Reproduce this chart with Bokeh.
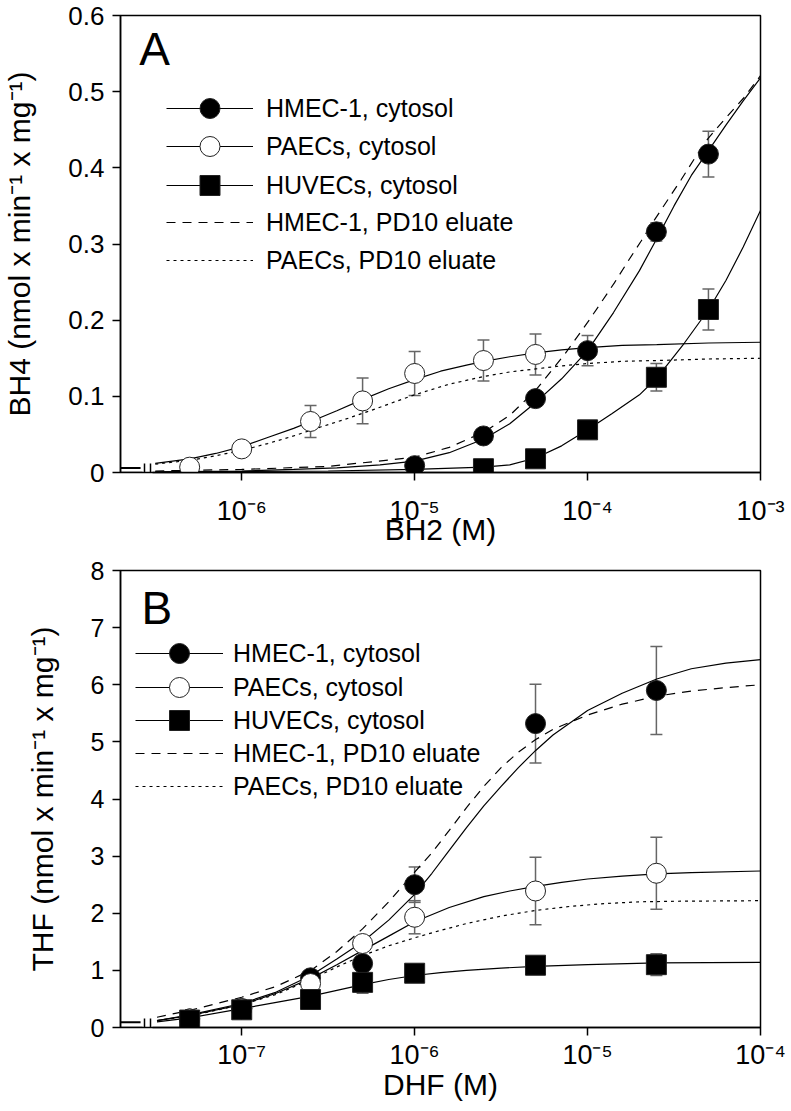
from bokeh.plotting import figure
from bokeh.models import (ColumnDataSource, Whisker, TeeHead, Legend, LegendItem, LogAxis,
                          FixedTicker, CustomJSTickFormatter, Label, Range1d)
from bokeh.layouts import column
from bokeh.embed import file_html
from bokeh.resources import INLINE

FONT = "Liberation Sans"
ERR = "#666666"

# ---------------- Panel A : BH2 -> BH4 ----------------
a_xticks = [1e-6, 1e-5, 1e-4, 1e-3]
a_yticks = [0, 0.1, 0.2, 0.3, 0.4, 0.5, 0.6]

a_hmec_x = [1e-5, 2.5e-5, 5e-5, 1e-4, 2.5e-4, 5e-4]
a_hmec_y = [0.009, 0.048, 0.097, 0.160, 0.316, 0.418]
a_hmec_e = [0.002, 0.003, 0.004, 0.020, 0.012, 0.030]

a_paec_x = [5e-7, 1e-6, 2.5e-6, 5e-6, 1e-5, 2.5e-5, 5e-5]
a_paec_y = [0.007, 0.031, 0.067, 0.094, 0.130, 0.147, 0.155]
a_paec_e = [0.002, 0.004, 0.021, 0.030, 0.029, 0.027, 0.027]

a_huvec_x = [2.5e-5, 5e-5, 1e-4, 2.5e-4, 5e-4]
a_huvec_y = [0.005, 0.018, 0.056, 0.125, 0.214]
a_huvec_e = [0.002, 0.003, 0.004, 0.018, 0.027]

# fitted curves (log10 of concentration, value)
a_hmec_fit_lx = [-6.50, -6.00, -5.70, -5.45, -5.20, -5.00, -4.80, -4.60, -4.45, -4.30, -4.15,
                 -4.00, -3.85, -3.70, -3.60, -3.50, -3.40, -3.30, -3.20, -3.10, -3.00]
a_hmec_fit_y = [0.001, 0.002, 0.004, 0.006, 0.010, 0.015, 0.026, 0.044, 0.064, 0.092, 0.123,
                0.160, 0.210, 0.265, 0.307, 0.350, 0.390, 0.423, 0.456, 0.488, 0.518]

a_paec_fit_lx = [-6.50, -6.30, -6.15, -6.00, -5.85, -5.70, -5.60, -5.45, -5.30, -5.15, -5.00,
                 -4.85, -4.70, -4.60, -4.45, -4.30, -4.15, -4.00, -3.80, -3.60, -3.30, -3.00]
a_paec_fit_y = [0.012, 0.018, 0.025, 0.034, 0.046, 0.058, 0.067, 0.081, 0.096, 0.110, 0.122,
                0.133, 0.141, 0.146, 0.152, 0.157, 0.161, 0.164, 0.167, 0.168, 0.170, 0.171]

a_huvec_fit_lx = [-6.50, -5.50, -5.00, -4.60, -4.45, -4.30, -4.15, -4.00, -3.86, -3.70, -3.60,
                  -3.44, -3.30, -3.20, -3.10, -3.00]
a_huvec_fit_y = [0.0005, 0.002, 0.004, 0.007, 0.010, 0.019, 0.035, 0.056, 0.077, 0.102, 0.124,
                 0.170, 0.214, 0.252, 0.296, 0.344]

a_hmec_pd_lx = [-6.50, -6.00, -5.50, -5.00, -4.80, -4.60, -4.45, -4.30, -4.13, -4.00, -3.925,
                -3.845, -3.77, -3.69, -3.615, -3.46, -3.385, -3.305, -3.195, -3.10, -3.00]
a_hmec_pd_y = [0.002, 0.004, 0.008, 0.020, 0.033, 0.053, 0.075, 0.108, 0.156, 0.197, 0.222,
               0.249, 0.276, 0.304, 0.331, 0.384, 0.411, 0.438, 0.467, 0.491, 0.521]

a_paec_pd_lx = [-6.50, -6.30, -6.15, -6.00, -5.85, -5.70, -5.54, -5.40, -5.22, -5.10, -5.00,
                -4.80, -4.60, -4.45, -4.30, -4.15, -4.00, -3.80, -3.60, -3.30, -3.00]
a_paec_pd_y = [0.011, 0.016, 0.022, 0.029, 0.038, 0.048, 0.060, 0.070, 0.084, 0.094, 0.102,
               0.116, 0.126, 0.132, 0.136, 0.140, 0.143, 0.146, 0.147, 0.149, 0.150]

a_stub_lx = [-6.70, -6.585]
a_stub_y = [0.006, 0.006]

# ---------------- Panel B : DHF -> THF ----------------
b_xticks = [1e-7, 1e-6, 1e-5, 1e-4]
b_yticks = [0, 1, 2, 3, 4, 5, 6, 7, 8]

b_conc = [5e-8, 1e-7, 2.5e-7, 5e-7, 1e-6, 5e-6, 2.5e-5]
b_hmec_y = [0.15, 0.33, 0.87, 1.12, 2.50, 5.32, 5.90]
b_hmec_e = [0.03, 0.05, 0.05, 0.08, 0.31, 0.69, 0.77]
b_paec_y = [0.15, 0.33, 0.77, 1.47, 1.93, 2.39, 2.70]
b_paec_e = [0.03, 0.05, 0.05, 0.08, 0.29, 0.59, 0.63]
b_huvec_y = [0.13, 0.31, 0.49, 0.79, 0.95, 1.09, 1.10]
b_huvec_e = [0.02, 0.03, 0.05, 0.19, 0.05, 0.06, 0.19]

b_hmec_fit_lx = [-7.49, -7.30, -7.00, -6.80, -6.60, -6.45, -6.30, -6.15, -6.00, -5.90, -5.80,
                 -5.70, -5.60, -5.50, -5.40, -5.30, -5.20, -5.00, -4.80, -4.60, -4.40, -4.20, -4.00]
b_hmec_fit_y = [0.12, 0.22, 0.42, 0.62, 0.91, 1.20, 1.50, 1.88, 2.33, 2.70, 3.10,
                3.50, 3.88, 4.22, 4.55, 4.85, 5.12, 5.55, 5.85, 6.10, 6.28, 6.38, 6.44]

b_hmec_pd_lx = [-7.49, -7.30, -7.00, -6.80, -6.60, -6.45, -6.30, -6.15, -6.00, -5.90, -5.80,
                -5.70, -5.60, -5.50, -5.40, -5.30, -5.20, -5.00, -4.80, -4.60, -4.40, -4.20, -4.00]
b_hmec_pd_y = [0.18, 0.30, 0.53, 0.72, 1.00, 1.33, 1.73, 2.20, 2.72, 3.06, 3.45,
               3.85, 4.22, 4.55, 4.82, 5.04, 5.22, 5.47, 5.66, 5.80, 5.89, 5.95, 6.00]

b_paec_fit_lx = [-7.49, -7.30, -7.00, -6.80, -6.60, -6.45, -6.30, -6.15, -6.00, -5.80, -5.60,
                 -5.45, -5.30, -5.15, -5.00, -4.80, -4.60, -4.40, -4.00]
b_paec_fit_y = [0.12, 0.21, 0.40, 0.60, 0.86, 1.10, 1.35, 1.60, 1.85, 2.10, 2.29,
                2.39, 2.47, 2.54, 2.60, 2.65, 2.69, 2.71, 2.74]

b_paec_pd_lx = [-7.49, -7.30, -7.00, -6.80, -6.60, -6.45, -6.30, -6.15, -6.00, -5.85, -5.70,
                -5.50, -5.30, -5.10, -4.90, -4.70, -4.50, -4.00]
b_paec_pd_y = [0.12, 0.20, 0.40, 0.58, 0.84, 1.06, 1.26, 1.43, 1.57, 1.70, 1.82,
               1.95, 2.05, 2.12, 2.17, 2.20, 2.21, 2.22]

b_huvec_fit_lx = [-7.49, -7.30, -7.00, -6.80, -6.60, -6.45, -6.30, -6.15, -6.00, -5.85, -5.70,
                  -5.50, -5.30, -5.00, -4.60, -4.00]
b_huvec_fit_y = [0.10, 0.17, 0.33, 0.44, 0.55, 0.65, 0.75, 0.84, 0.91, 0.96, 1.00,
                 1.04, 1.07, 1.10, 1.13, 1.14]

b_stub_lx = [-7.70, -7.585]
b_stub_y = [0.09, 0.09]

legend_labels = ["HMEC-1, cytosol", "PAECs, cytosol", "HUVECs, cytosol",
                 "HMEC-1, PD10 eluate", "PAECs, PD10 eluate"]

SUP_JS = """
const sup = {"-": "\u207b", "0": "\u2070", "1": "\u00b9", "2": "\u00b2", "3": "\u00b3",
             "4": "\u2074", "5": "\u2075", "6": "\u2076", "7": "\u2077", "8": "\u2078", "9": "\u2079"};
const e = Math.round(Math.log10(tick));
return "10" + String(e).split("").map(c => sup[c]).join("");
"""

FIG_W = 789
LEFT = 116
RIGHT = 29


def pow10(lx):
    return [10 ** v for v in lx]


def make_panel(height, top, bottom, xlo, xhi, yhi, xticks, yticks, yfmt, yfont,
               xlabel, ylabel, xstand, xlabstand, axis_start):
    p = figure(width=FIG_W, height=height, x_axis_type="log",
               x_range=Range1d(xlo, xhi), y_range=Range1d(0, yhi),
               output_backend="svg", toolbar_location=None,
               min_border_left=LEFT, min_border_right=RIGHT,
               min_border_top=top, min_border_bottom=bottom)
    p.grid.visible = False
    p.outline_line_color = "black"
    p.outline_line_width = 1.5
    p.background_fill_color = "white"
    p.border_fill_color = "white"
    p.xaxis.ticker = FixedTicker(ticks=xticks, minor_ticks=[])
    p.yaxis.ticker = FixedTicker(ticks=yticks, minor_ticks=[])
    p.xaxis.formatter = CustomJSTickFormatter(code=SUP_JS)
    p.yaxis.formatter = CustomJSTickFormatter(code=yfmt)
    p.axis.axis_line_width = 1.5
    p.axis.axis_line_color = "black"
    p.axis.major_tick_line_width = 1.5
    p.axis.major_tick_line_color = "black"
    p.axis.major_tick_out = 8
    p.axis.major_tick_in = 0
    p.axis.minor_tick_out = 0
    p.axis.minor_tick_in = 0
    p.axis.major_label_text_font = FONT
    p.axis.major_label_text_color = "black"
    p.xaxis.major_label_text_font_size = "27px"
    p.yaxis.major_label_text_font_size = yfont
    p.axis.axis_label_text_font = FONT
    p.axis.axis_label_text_font_size = "30px"
    p.axis.axis_label_text_font_style = "normal"
    p.axis.axis_label_text_color = "black"
    p.xaxis.major_label_standoff = xstand
    p.xaxis.axis_label_standoff = xlabstand
    p.yaxis.major_label_standoff = 8
    p.yaxis.axis_label_standoff = 29
    p.xaxis.axis_label = xlabel
    p.yaxis.axis_label = ylabel
    p.xaxis.bounds = (10 ** axis_start, xhi)
    return p


def add_break_axes(p, xlo, stub_end, bar1, bar2, bar_loc):
    empty = 'return "";'
    stub = LogAxis(fixed_location=0, bounds=(xlo, 10 ** stub_end),
                   ticker=FixedTicker(ticks=[], minor_ticks=[]),
                   formatter=CustomJSTickFormatter(code=empty),
                   major_label_text_font_size="0px", axis_line_width=1.5,
                   axis_line_color="black", major_tick_out=0, major_tick_in=0,
                   minor_tick_out=0, minor_tick_in=0, major_label_standoff=0)
    p.add_layout(stub, "below")
    bars = LogAxis(fixed_location=bar_loc,
                   ticker=FixedTicker(ticks=[10 ** bar1, 10 ** bar2], minor_ticks=[]),
                   formatter=CustomJSTickFormatter(code=empty),
                   major_label_text_font_size="0px", axis_line_color=None,
                   major_tick_in=19, major_tick_out=0, major_tick_line_width=1.5,
                   major_tick_line_color="black", minor_tick_out=0, minor_tick_in=0,
                   major_label_standoff=0)
    p.add_layout(bars, "below")


def add_points(p, xs, ys, es, marker, fill):
    src = ColumnDataSource(dict(x=xs, y=ys,
                                lo=[y - e for y, e in zip(ys, es)],
                                hi=[y + e for y, e in zip(ys, es)]))
    w = Whisker(source=src, base="x", lower="lo", upper="hi",
                line_color=ERR, line_width=1.5, level="underlay",
                upper_head=TeeHead(size=12, line_color=ERR, line_width=1.5),
                lower_head=TeeHead(size=12, line_color=ERR, line_width=1.5))
    p.add_layout(w)
    return p.scatter("x", "y", source=src, marker=marker, size=20,
                     fill_color=fill, line_color="#222222", line_width=1)


def add_curve(p, lx, ys, dash="solid"):
    return p.line(pow10(lx), ys, line_color="black", line_width=1.2, line_dash=dash)


def add_legend(p, items, x0, vys, gw, standoff):
    for lab, rends, vy in zip(legend_labels, items, vys):
        leg = Legend(items=[LegendItem(label=lab, renderers=rends)],
                     location=(x0, vy), orientation="vertical", glyph_width=gw, glyph_height=50,
                     spacing=0, padding=0, margin=0, label_standoff=standoff,
                     label_text_font=FONT, label_text_font_size="25px",
                     label_text_color="black", label_height=20,
                     border_line_color=None, background_fill_alpha=0)
        p.add_layout(leg)


# ---------- build A ----------
A_TOP, A_FRAME, A_BOT = 15, 457, 84
A_H = A_TOP + A_FRAME + A_BOT
A_FRAME_BOT_PX = A_TOP + A_FRAME
A_YHI = 0.6
pA = make_panel(A_H, A_TOP, A_BOT, 10 ** -6.701, 1e-3, A_YHI,
                a_xticks, a_yticks, 'return tick == 0 ? "0" : tick.toFixed(1);', "26px",
                "BH2 (M)", "BH4 (nmol x min\u207b\u00b9 x mg\u207b\u00b9)", 15, -16, -6.517)
pA.line(pow10(a_stub_lx), a_stub_y, line_color="black", line_width=2)
lA1 = add_curve(pA, a_hmec_fit_lx, a_hmec_fit_y)
lA2 = add_curve(pA, a_paec_fit_lx, a_paec_fit_y)
lA3 = add_curve(pA, a_huvec_fit_lx, a_huvec_fit_y)
lA4 = add_curve(pA, a_hmec_pd_lx, a_hmec_pd_y, "9 7")
lA5 = add_curve(pA, a_paec_pd_lx, a_paec_pd_y, "3 4")
sA1 = add_points(pA, a_hmec_x, a_hmec_y, a_hmec_e, "circle", "black")
sA2 = add_points(pA, a_paec_x, a_paec_y, a_paec_e, "circle", "white")
sA3 = add_points(pA, a_huvec_x, a_huvec_y, a_huvec_e, "square", "black")
a_rows_px = [108, 146, 185, 222, 260]
add_legend(pA, [[lA1, sA1], [lA2, sA2], [lA3, sA3], [lA4], [lA5]], 46,
           [A_FRAME_BOT_PX - c - 25 for c in a_rows_px], 87, 13)
add_break_axes(pA, 10 ** -6.701, -6.575, -6.563, -6.529, -10 * A_YHI / A_FRAME)
pA.add_layout(Label(x=10 ** -6.592, y=(A_FRAME_BOT_PX - 48.5) * A_YHI / A_FRAME, text="A",
                    text_font=FONT, text_font_size="46px",
                    text_align="left", text_baseline="middle", text_color="black"))

# ---------- build B ----------
B_TOP, B_FRAME, B_BOT = 14, 457, 84
B_H = B_TOP + B_FRAME + B_BOT
B_FRAME_BOT_PX = A_H + B_TOP + B_FRAME
B_YHI = 8
pB = make_panel(B_H, B_TOP, B_BOT, 10 ** -7.701, 1e-4, B_YHI,
                b_xticks, b_yticks, 'return tick.toFixed(0);', "25px",
                "DHF (M)", "THF (nmol x min\u207b\u00b9 x mg\u207b\u00b9)", 4, -5, -7.517)
pB.line(pow10(b_stub_lx), b_stub_y, line_color="black", line_width=2)
lB1 = add_curve(pB, b_hmec_fit_lx, b_hmec_fit_y)
lB2 = add_curve(pB, b_paec_fit_lx, b_paec_fit_y)
lB3 = add_curve(pB, b_huvec_fit_lx, b_huvec_fit_y)
lB4 = add_curve(pB, b_hmec_pd_lx, b_hmec_pd_y, "9 7")
lB5 = add_curve(pB, b_paec_pd_lx, b_paec_pd_y, "3 4")
sB1 = add_points(pB, b_conc, b_hmec_y, b_hmec_e, "circle", "black")
sB2 = add_points(pB, b_conc, b_paec_y, b_paec_e, "circle", "white")
sB3 = add_points(pB, b_conc, b_huvec_y, b_huvec_e, "square", "black")
b_rows_px = [653, 687, 720, 753, 786]
add_legend(pB, [[lB1, sB1], [lB2, sB2], [lB3, sB3], [lB4], [lB5]], 15,
           [B_FRAME_BOT_PX - c - 25 for c in b_rows_px], 88, 10)
add_break_axes(pB, 10 ** -7.701, -7.575, -7.563, -7.529, -10 * B_YHI / B_FRAME)
pB.add_layout(Label(x=10 ** -7.58, y=(B_FRAME_BOT_PX - 607.5) * B_YHI / B_FRAME, text="B",
                    text_font=FONT, text_font_size="46px",
                    text_align="left", text_baseline="middle", text_color="black"))

layout = column(pA, pB, spacing=0)
open("out.html", "w").write(file_html(layout, INLINE))
